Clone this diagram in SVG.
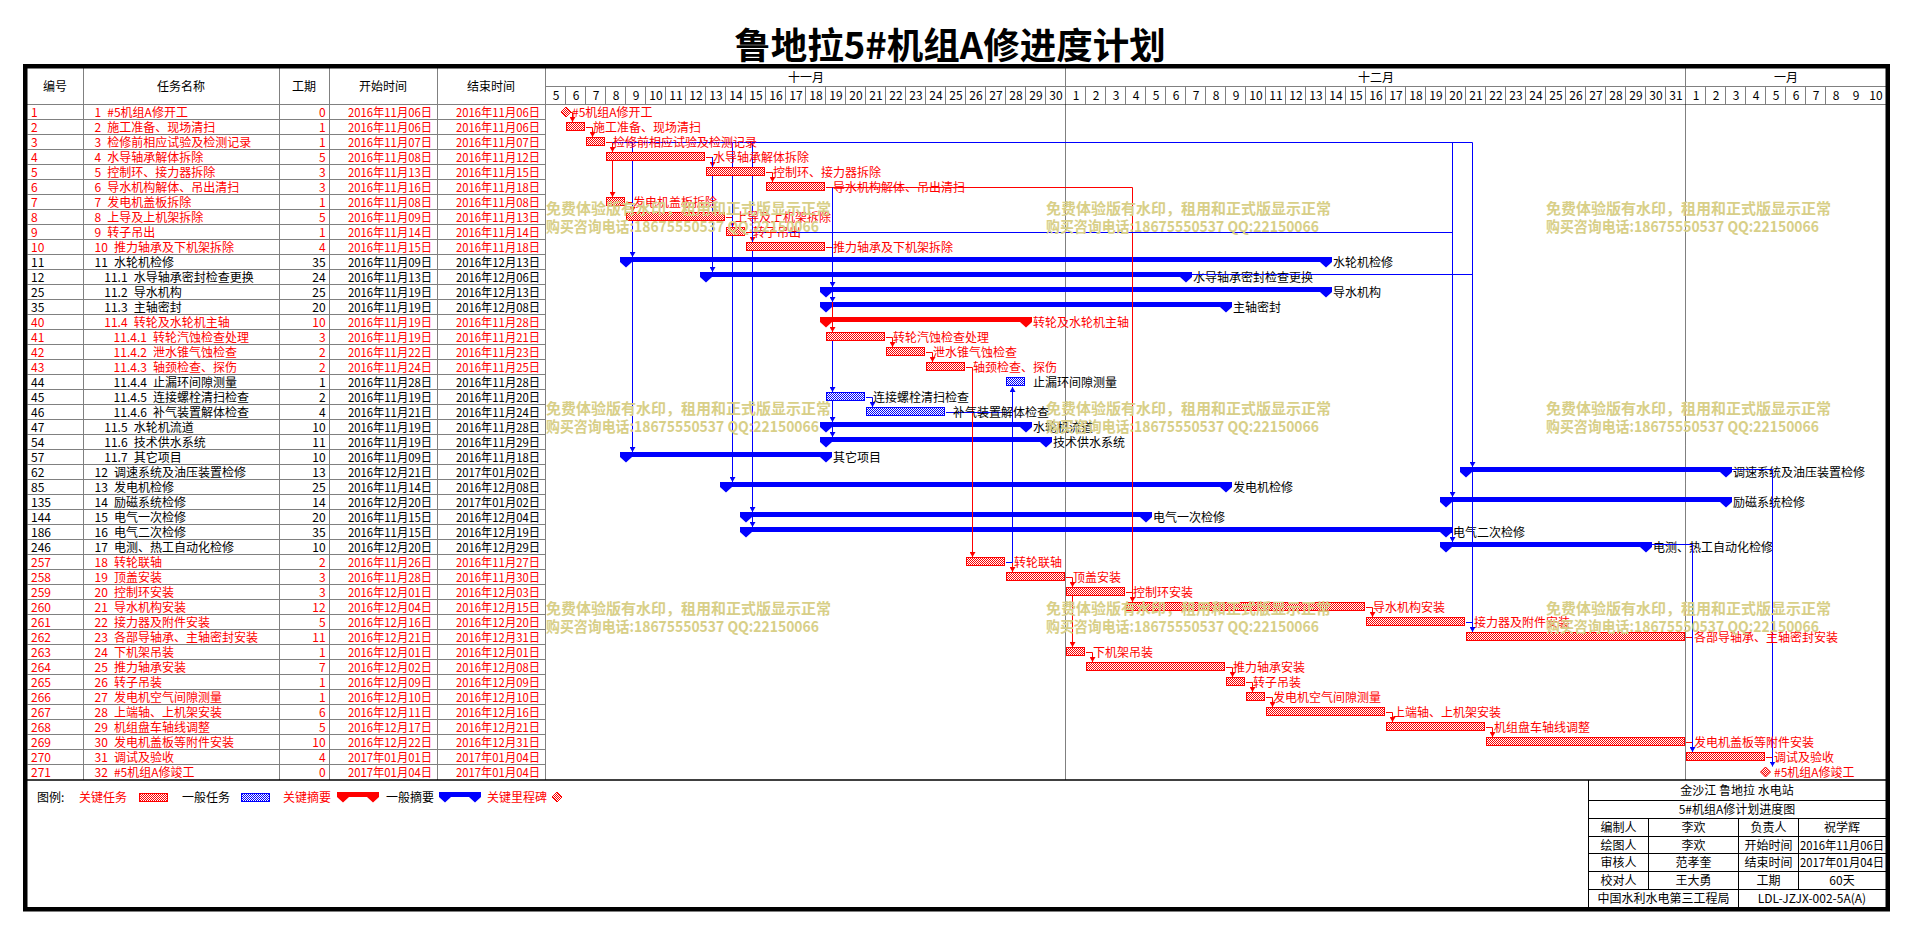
<svg xmlns="http://www.w3.org/2000/svg" width="1912" height="934" viewBox="0 0 1912 934">
<style>
text{font-family:"Noto Sans CJK SC","Liberation Sans",sans-serif;font-size:12px}
.R{fill:#f00}.K{fill:#000}
.e{text-anchor:end}.m{text-anchor:middle}
.br{fill:url(#pr);stroke:#f00;stroke-width:1}
.bb{fill:url(#pb);stroke:#00f;stroke-width:1}
.sr{fill:#f00}.sb{fill:#00f}
.g{fill:none;stroke:#808080;stroke-width:1}
.k1{fill:none;stroke:#000;stroke-width:1}
.lr{fill:none;stroke:#f00;stroke-width:1;marker-end:url(#ar)}
.lb{fill:none;stroke:#00f;stroke-width:1;marker-end:url(#ab)}
.nr{fill:none;stroke:#f00;stroke-width:1}
.nb{fill:none;stroke:#00f;stroke-width:1}
.wm{fill:#d8cf88;font-size:15px;font-weight:bold}
</style>
<defs>
<pattern id="pr" width="2" height="2" patternUnits="userSpaceOnUse"><rect width="2" height="2" fill="#fff"/><rect width="1" height="1" fill="#f00"/><rect x="1" y="1" width="1" height="1" fill="#f00"/></pattern>
<pattern id="pb" width="2" height="2" patternUnits="userSpaceOnUse"><rect width="2" height="2" fill="#fff"/><rect width="1" height="1" fill="#00f"/><rect x="1" y="1" width="1" height="1" fill="#00f"/></pattern>
<marker id="ar" viewBox="0 0 5 6" refX="5" refY="3" markerWidth="5" markerHeight="6" markerUnits="userSpaceOnUse" orient="auto"><path d="M0,0L5,3L0,6Z" fill="#f00"/></marker>
<marker id="ab" viewBox="0 0 5 6" refX="5" refY="3" markerWidth="5" markerHeight="6" markerUnits="userSpaceOnUse" orient="auto"><path d="M0,0L5,3L0,6Z" fill="#00f"/></marker>
<g id="wmk"><text class="wm" x="0" y="0">免费体验版有水印，租用和正式版显示正常</text><text class="wm" x="0" y="17.5" textLength="273" lengthAdjust="spacingAndGlyphs">购买咨询电话:18675550537 QQ:22150066</text></g>
</defs>
<rect width="1912" height="934" fill="#fff"/>
<text id="title" class="m" x="950" y="59" style="font-size:36.5px;font-weight:bold">鲁地拉5#机组A修进度计划</text>

<g id="grid">
<path class="g" d="M27.5,119.5h518m-518,15h518m-518,15h518m-518,15h518m-518,15h518m-518,15h518m-518,15h518m-518,15h518m-518,15h518m-518,15h518m-518,15h518m-518,15h518m-518,15h518m-518,15h518m-518,15h518m-518,15h518m-518,15h518m-518,15h518m-518,15h518m-518,15h518m-518,15h518m-518,15h518m-518,15h518m-518,15h518m-518,15h518m-518,15h518m-518,15h518m-518,15h518m-518,15h518m-518,15h518m-518,15h518m-518,15h518m-518,15h518m-518,15h518m-518,15h518m-518,15h518m-518,15h518m-518,15h518m-518,15h518m-518,15h518m-518,15h518m-518,15h518m-518,15h518m-518,15h518"/>
<path class="g" d="M83.5,68V780M279.5,68V780M329.5,68V780M437.5,68V780M545.5,68V780M27,104.5H1886M545.5,86.5H1886M1065.5,68V86M1685.5,68V86"/>
<path class="g" d="M565.5,86v18m20-18v18m20-18v18m20-18v18m20-18v18m20-18v18m20-18v18m20-18v18m20-18v18m20-18v18m20-18v18m20-18v18m20-18v18m20-18v18m20-18v18m20-18v18m20-18v18m20-18v18m20-18v18m20-18v18m20-18v18m20-18v18m20-18v18m20-18v18m20-18v18m20-18v18m20-18v18m20-18v18m20-18v18m20-18v18m20-18v18m20-18v18m20-18v18m20-18v18m20-18v18m20-18v18m20-18v18m20-18v18m20-18v18m20-18v18m20-18v18m20-18v18m20-18v18m20-18v18m20-18v18m20-18v18m20-18v18m20-18v18m20-18v18m20-18v18m20-18v18m20-18v18m20-18v18m20-18v18m20-18v18m20-18v18m20-18v18m20-18v18m20-18v18m20-18v18m20-18v18m20-18v18m20-18v18m20-18v18"/>
<path d="M1065.5,104.5V780M1685.5,104.5V780" fill="none" stroke="#000" stroke-width="1" stroke-dasharray="1 1"/>
<path d="M27,780H1886" fill="none" stroke="#000" stroke-width="1.5"/>
</g>

<g id="header" class="K">
<text class="m" x="55" y="90.5">编号</text>
<text class="m" x="181" y="90.5">任务名称</text>
<text class="m" x="304" y="90.5">工期</text>
<text class="m" x="383" y="90.5">开始时间</text>
<text class="m" x="491" y="90.5">结束时间</text>
<text class="m" x="806" y="81.5">十一月</text>
<text class="m" x="1376" y="81.5">十二月</text>
<text class="m" x="1786" y="81.5">一月</text>
<g class="m">
<text class="m" x="556" y="99.5">5</text><text class="m" x="576" y="99.5">6</text><text class="m" x="596" y="99.5">7</text><text class="m" x="616" y="99.5">8</text><text class="m" x="636" y="99.5">9</text><text class="m" x="656" y="99.5">10</text><text class="m" x="676" y="99.5">11</text><text class="m" x="696" y="99.5">12</text><text class="m" x="716" y="99.5">13</text><text class="m" x="736" y="99.5">14</text><text class="m" x="756" y="99.5">15</text><text class="m" x="776" y="99.5">16</text><text class="m" x="796" y="99.5">17</text><text class="m" x="816" y="99.5">18</text><text class="m" x="836" y="99.5">19</text><text class="m" x="856" y="99.5">20</text><text class="m" x="876" y="99.5">21</text><text class="m" x="896" y="99.5">22</text><text class="m" x="916" y="99.5">23</text><text class="m" x="936" y="99.5">24</text><text class="m" x="956" y="99.5">25</text><text class="m" x="976" y="99.5">26</text><text class="m" x="996" y="99.5">27</text><text class="m" x="1016" y="99.5">28</text><text class="m" x="1036" y="99.5">29</text><text class="m" x="1056" y="99.5">30</text>
<text class="m" x="1076" y="99.5">1</text><text class="m" x="1096" y="99.5">2</text><text class="m" x="1116" y="99.5">3</text><text class="m" x="1136" y="99.5">4</text><text class="m" x="1156" y="99.5">5</text><text class="m" x="1176" y="99.5">6</text><text class="m" x="1196" y="99.5">7</text><text class="m" x="1216" y="99.5">8</text><text class="m" x="1236" y="99.5">9</text><text class="m" x="1256" y="99.5">10</text><text class="m" x="1276" y="99.5">11</text><text class="m" x="1296" y="99.5">12</text><text class="m" x="1316" y="99.5">13</text><text class="m" x="1336" y="99.5">14</text><text class="m" x="1356" y="99.5">15</text><text class="m" x="1376" y="99.5">16</text><text class="m" x="1396" y="99.5">17</text><text class="m" x="1416" y="99.5">18</text><text class="m" x="1436" y="99.5">19</text><text class="m" x="1456" y="99.5">20</text><text class="m" x="1476" y="99.5">21</text><text class="m" x="1496" y="99.5">22</text><text class="m" x="1516" y="99.5">23</text><text class="m" x="1536" y="99.5">24</text><text class="m" x="1556" y="99.5">25</text><text class="m" x="1576" y="99.5">26</text><text class="m" x="1596" y="99.5">27</text><text class="m" x="1616" y="99.5">28</text><text class="m" x="1636" y="99.5">29</text><text class="m" x="1656" y="99.5">30</text><text class="m" x="1676" y="99.5">31</text>
<text class="m" x="1696" y="99.5">1</text><text class="m" x="1716" y="99.5">2</text><text class="m" x="1736" y="99.5">3</text><text class="m" x="1756" y="99.5">4</text><text class="m" x="1776" y="99.5">5</text><text class="m" x="1796" y="99.5">6</text><text class="m" x="1816" y="99.5">7</text><text class="m" x="1836" y="99.5">8</text><text class="m" x="1856" y="99.5">9</text><text class="m" x="1876" y="99.5">10</text>
</g>
</g>

<!-- summary tasks -->
<g id="task-11" class="K"><text x="31" y="266.5">11</text><text x="94.6" y="266.5">11<tspan dx="6">水轮机检修</tspan></text><text class="e" x="325.6" y="266.5">35</text><text class="e" x="432" y="266.5" textLength="84" lengthAdjust="spacingAndGlyphs">2016年11月09日</text><text class="e" x="540" y="266.5" textLength="84" lengthAdjust="spacingAndGlyphs">2016年12月13日</text><polygon class="sb" points="620,257 1332,257 1332,262 1326,267.5 1320,262 632,262 626,267.5 620,262"/><text x="1333" y="266.5">水轮机检修</text></g>
<g id="task-12" class="K"><text x="31" y="281.5">12</text><text x="104.3" y="281.5">11.1<tspan dx="6">水导轴承密封检查更换</tspan></text><text class="e" x="325.6" y="281.5">24</text><text class="e" x="432" y="281.5" textLength="84" lengthAdjust="spacingAndGlyphs">2016年11月13日</text><text class="e" x="540" y="281.5" textLength="84" lengthAdjust="spacingAndGlyphs">2016年12月06日</text><polygon class="sb" points="700,272 1192,272 1192,277 1186,282.5 1180,277 712,277 706,282.5 700,277"/><text x="1193" y="281.5">水导轴承密封检查更换</text></g>
<g id="task-25" class="K"><text x="31" y="296.5">25</text><text x="104.3" y="296.5">11.2<tspan dx="6">导水机构</tspan></text><text class="e" x="325.6" y="296.5">25</text><text class="e" x="432" y="296.5" textLength="84" lengthAdjust="spacingAndGlyphs">2016年11月19日</text><text class="e" x="540" y="296.5" textLength="84" lengthAdjust="spacingAndGlyphs">2016年12月13日</text><polygon class="sb" points="820,287 1332,287 1332,292 1326,297.5 1320,292 832,292 826,297.5 820,292"/><text x="1333" y="296.5">导水机构</text></g>
<g id="task-35" class="K"><text x="31" y="311.5">35</text><text x="104.3" y="311.5">11.3<tspan dx="6">主轴密封</tspan></text><text class="e" x="325.6" y="311.5">20</text><text class="e" x="432" y="311.5" textLength="84" lengthAdjust="spacingAndGlyphs">2016年11月19日</text><text class="e" x="540" y="311.5" textLength="84" lengthAdjust="spacingAndGlyphs">2016年12月08日</text><polygon class="sb" points="820,302 1232,302 1232,307 1226,312.5 1220,307 832,307 826,312.5 820,307"/><text x="1233" y="311.5">主轴密封</text></g>
<g id="task-40" class="R"><text x="31" y="326.5">40</text><text x="104.3" y="326.5">11.4<tspan dx="6">转轮及水轮机主轴</tspan></text><text class="e" x="325.6" y="326.5">10</text><text class="e" x="432" y="326.5" textLength="84" lengthAdjust="spacingAndGlyphs">2016年11月19日</text><text class="e" x="540" y="326.5" textLength="84" lengthAdjust="spacingAndGlyphs">2016年11月28日</text><polygon class="sr" points="820,317 1032,317 1032,322 1026,327.5 1020,322 832,322 826,327.5 820,322"/><text x="1033" y="326.5">转轮及水轮机主轴</text></g>
<g id="task-47" class="K"><text x="31" y="431.5">47</text><text x="104.3" y="431.5">11.5<tspan dx="6">水轮机流道</tspan></text><text class="e" x="325.6" y="431.5">10</text><text class="e" x="432" y="431.5" textLength="84" lengthAdjust="spacingAndGlyphs">2016年11月19日</text><text class="e" x="540" y="431.5" textLength="84" lengthAdjust="spacingAndGlyphs">2016年11月28日</text><polygon class="sb" points="820,422 1032,422 1032,427 1026,432.5 1020,427 832,427 826,432.5 820,427"/><text x="1033" y="431.5">水轮机流道</text></g>
<g id="task-54" class="K"><text x="31" y="446.5">54</text><text x="104.3" y="446.5">11.6<tspan dx="6">技术供水系统</tspan></text><text class="e" x="325.6" y="446.5">11</text><text class="e" x="432" y="446.5" textLength="84" lengthAdjust="spacingAndGlyphs">2016年11月19日</text><text class="e" x="540" y="446.5" textLength="84" lengthAdjust="spacingAndGlyphs">2016年11月29日</text><polygon class="sb" points="820,437 1052,437 1052,442 1046,447.5 1040,442 832,442 826,447.5 820,442"/><text x="1053" y="446.5">技术供水系统</text></g>
<g id="task-57" class="K"><text x="31" y="461.5">57</text><text x="104.3" y="461.5">11.7<tspan dx="6">其它项目</tspan></text><text class="e" x="325.6" y="461.5">10</text><text class="e" x="432" y="461.5" textLength="84" lengthAdjust="spacingAndGlyphs">2016年11月09日</text><text class="e" x="540" y="461.5" textLength="84" lengthAdjust="spacingAndGlyphs">2016年11月18日</text><polygon class="sb" points="620,452 832,452 832,457 826,462.5 820,457 632,457 626,462.5 620,457"/><text x="833" y="461.5">其它项目</text></g>
<g id="task-62" class="K"><text x="31" y="476.5">62</text><text x="94.6" y="476.5">12<tspan dx="6">调速系统及油压装置检修</tspan></text><text class="e" x="325.6" y="476.5">13</text><text class="e" x="432" y="476.5" textLength="84" lengthAdjust="spacingAndGlyphs">2016年12月21日</text><text class="e" x="540" y="476.5" textLength="84" lengthAdjust="spacingAndGlyphs">2017年01月02日</text><polygon class="sb" points="1460,467 1732,467 1732,472 1726,477.5 1720,472 1472,472 1466,477.5 1460,472"/><text x="1733" y="476.5">调速系统及油压装置检修</text></g>
<g id="task-85" class="K"><text x="31" y="491.5">85</text><text x="94.6" y="491.5">13<tspan dx="6">发电机检修</tspan></text><text class="e" x="325.6" y="491.5">25</text><text class="e" x="432" y="491.5" textLength="84" lengthAdjust="spacingAndGlyphs">2016年11月14日</text><text class="e" x="540" y="491.5" textLength="84" lengthAdjust="spacingAndGlyphs">2016年12月08日</text><polygon class="sb" points="720,482 1232,482 1232,487 1226,492.5 1220,487 732,487 726,492.5 720,487"/><text x="1233" y="491.5">发电机检修</text></g>
<g id="task-135" class="K"><text x="31" y="506.5">135</text><text x="94.6" y="506.5">14<tspan dx="6">励磁系统检修</tspan></text><text class="e" x="325.6" y="506.5">14</text><text class="e" x="432" y="506.5" textLength="84" lengthAdjust="spacingAndGlyphs">2016年12月20日</text><text class="e" x="540" y="506.5" textLength="84" lengthAdjust="spacingAndGlyphs">2017年01月02日</text><polygon class="sb" points="1440,497 1732,497 1732,502 1726,507.5 1720,502 1452,502 1446,507.5 1440,502"/><text x="1733" y="506.5">励磁系统检修</text></g>
<g id="task-144" class="K"><text x="31" y="521.5">144</text><text x="94.6" y="521.5">15<tspan dx="6">电气一次检修</tspan></text><text class="e" x="325.6" y="521.5">20</text><text class="e" x="432" y="521.5" textLength="84" lengthAdjust="spacingAndGlyphs">2016年11月15日</text><text class="e" x="540" y="521.5" textLength="84" lengthAdjust="spacingAndGlyphs">2016年12月04日</text><polygon class="sb" points="740,512 1152,512 1152,517 1146,522.5 1140,517 752,517 746,522.5 740,517"/><text x="1153" y="521.5">电气一次检修</text></g>
<g id="task-186" class="K"><text x="31" y="536.5">186</text><text x="94.6" y="536.5">16<tspan dx="6">电气二次检修</tspan></text><text class="e" x="325.6" y="536.5">35</text><text class="e" x="432" y="536.5" textLength="84" lengthAdjust="spacingAndGlyphs">2016年11月15日</text><text class="e" x="540" y="536.5" textLength="84" lengthAdjust="spacingAndGlyphs">2016年12月19日</text><polygon class="sb" points="740,527 1452,527 1452,532 1446,537.5 1440,532 752,532 746,537.5 740,532"/><text x="1453" y="536.5">电气二次检修</text></g>
<g id="task-246" class="K"><text x="31" y="551.5">246</text><text x="94.6" y="551.5">17<tspan dx="6">电测、热工自动化检修</tspan></text><text class="e" x="325.6" y="551.5">10</text><text class="e" x="432" y="551.5" textLength="84" lengthAdjust="spacingAndGlyphs">2016年12月20日</text><text class="e" x="540" y="551.5" textLength="84" lengthAdjust="spacingAndGlyphs">2016年12月29日</text><polygon class="sb" points="1440,542 1652,542 1652,547 1646,552.5 1640,547 1452,547 1446,552.5 1440,547"/><text x="1653" y="551.5">电测、热工自动化检修</text></g>

<g id="connectors">
<path class="lr" d="M571,112.5H572.5V122"/>
<path class="lr" d="M586,127.5H592.5V137"/>
<path class="lr" d="M606,142.5H612.5V152"/>
<path class="lr" d="M612.5,152V197"/>
<path class="lr" d="M706,157.5H712.5V167"/>
<path class="lr" d="M766,172.5H772.5V182"/>
<path class="lr" d="M826,187.5H1132.5V602"/>
<path class="lr" d="M626,202.5H632.5V212"/>
<path class="lr" d="M726,217.5H732.5V227"/>
<path class="lr" d="M746,232.5H752.5V242"/>
<path class="nr" d="M826,247.5H832.5"/>
<path class="lr" d="M832.5,302V332"/>
<path class="lr" d="M886,337.5H892.5V347"/>
<path class="lr" d="M926,352.5H932.5V362"/>
<path class="lr" d="M966,367.5H972.5V557"/>
<path class="lr" d="M1006,562.5H1012.5V572"/>
<path class="lr" d="M1066,577.5H1072.5V587"/>
<path class="lr" d="M1072.5,587V647"/>
<path class="nr" d="M1126,592.5H1132.5"/>
<path class="lr" d="M1366,607.5H1372.5V617"/>
<path class="lr" d="M1086,652.5H1092.5V662"/>
<path class="lr" d="M1226,667.5H1232.5V677"/>
<path class="lr" d="M1246,682.5H1252.5V692"/>
<path class="lr" d="M1266,697.5H1272.5V707"/>
<path class="lr" d="M1386,712.5H1392.5V722"/>
<path class="lr" d="M1486,727.5H1492.5V737"/>
<path class="nr" d="M1686,637.5H1692.5"/>
<path class="nr" d="M1686,742.5H1692.5"/>
<path class="nr" d="M1766,757.5H1772.5"/>
<path class="nb" d="M612.5,142.5H1472.5"/>
<path class="nb" d="M752.5,232.5H1452.5"/>
<path class="nb" d="M1186,274.5H1472.5"/>
<path class="nb" d="M946,412.5H1012.5"/>
<path class="nb" d="M1466,622.5H1472.5"/>
<path class="nb" d="M1446,532.5H1452.5"/>
<path class="lb" d="M1472.5,142.5V632"/>
<path class="lb" d="M1472.5,460V467"/>
<path class="lb" d="M1452.5,142.5V542"/>
<path class="lb" d="M1452.5,490V497"/>
<path class="lb" d="M632.5,142.5V452"/>
<path class="lb" d="M632.5,250V257"/>
<path class="lb" d="M712.5,157V272"/>
<path class="lb" d="M732.5,142.5V482"/>
<path class="lb" d="M752.5,142.5V527"/>
<path class="lb" d="M752.5,505V512"/>
<path class="lb" d="M832.5,187.5V302"/>
<path class="lb" d="M832.5,280V287"/>
<path class="lb" d="M832.5,332V437"/>
<path class="lb" d="M832.5,385V392"/>
<path class="lb" d="M832.5,415V422"/>
<path class="lb" d="M866,397.5H872.5V407"/>
<path class="lb" d="M1006,562.5H1012.5V387"/>
<path class="lb" d="M1646,544.5H1692.5V752"/>
<path class="lb" d="M1726,469.5H1772.5V766.5"/>
</g>

<!-- tasks and milestones -->
<g id="task-1" class="R"><text x="31" y="116.5">1</text><text x="94.6" y="116.5">1<tspan dx="6">#5机组A修开工</tspan></text><text class="e" x="325.6" y="116.5">0</text><text class="e" x="432" y="116.5" textLength="84" lengthAdjust="spacingAndGlyphs">2016年11月06日</text><text class="e" x="540" y="116.5" textLength="84" lengthAdjust="spacingAndGlyphs">2016年11月06日</text><polygon class="br" points="561,112 566,107 571,112 566,117"/><text x="572" y="116.5">#5机组A修开工</text></g>
<g id="task-2" class="R"><text x="31" y="131.5">2</text><text x="94.6" y="131.5">2<tspan dx="6">施工准备、现场清扫</tspan></text><text class="e" x="325.6" y="131.5">1</text><text class="e" x="432" y="131.5" textLength="84" lengthAdjust="spacingAndGlyphs">2016年11月06日</text><text class="e" x="540" y="131.5" textLength="84" lengthAdjust="spacingAndGlyphs">2016年11月06日</text><rect class="br" x="566.5" y="122.5" width="18" height="8"/><text x="593" y="131.5">施工准备、现场清扫</text></g>
<g id="task-3" class="R"><text x="31" y="146.5">3</text><text x="94.6" y="146.5">3<tspan dx="6">检修前相应试验及检测记录</tspan></text><text class="e" x="325.6" y="146.5">1</text><text class="e" x="432" y="146.5" textLength="84" lengthAdjust="spacingAndGlyphs">2016年11月07日</text><text class="e" x="540" y="146.5" textLength="84" lengthAdjust="spacingAndGlyphs">2016年11月07日</text><rect class="br" x="586.5" y="137.5" width="18" height="8"/><text x="613" y="146.5">检修前相应试验及检测记录</text></g>
<g id="task-4" class="R"><text x="31" y="161.5">4</text><text x="94.6" y="161.5">4<tspan dx="6">水导轴承解体拆除</tspan></text><text class="e" x="325.6" y="161.5">5</text><text class="e" x="432" y="161.5" textLength="84" lengthAdjust="spacingAndGlyphs">2016年11月08日</text><text class="e" x="540" y="161.5" textLength="84" lengthAdjust="spacingAndGlyphs">2016年11月12日</text><rect class="br" x="606.5" y="152.5" width="98" height="8"/><text x="713" y="161.5">水导轴承解体拆除</text></g>
<g id="task-5" class="R"><text x="31" y="176.5">5</text><text x="94.6" y="176.5">5<tspan dx="6">控制环、接力器拆除</tspan></text><text class="e" x="325.6" y="176.5">3</text><text class="e" x="432" y="176.5" textLength="84" lengthAdjust="spacingAndGlyphs">2016年11月13日</text><text class="e" x="540" y="176.5" textLength="84" lengthAdjust="spacingAndGlyphs">2016年11月15日</text><rect class="br" x="706.5" y="167.5" width="58" height="8"/><text x="773" y="176.5">控制环、接力器拆除</text></g>
<g id="task-6" class="R"><text x="31" y="191.5">6</text><text x="94.6" y="191.5">6<tspan dx="6">导水机构解体、吊出清扫</tspan></text><text class="e" x="325.6" y="191.5">3</text><text class="e" x="432" y="191.5" textLength="84" lengthAdjust="spacingAndGlyphs">2016年11月16日</text><text class="e" x="540" y="191.5" textLength="84" lengthAdjust="spacingAndGlyphs">2016年11月18日</text><rect class="br" x="766.5" y="182.5" width="58" height="8"/><text x="833" y="191.5">导水机构解体、吊出清扫</text></g>
<g id="task-7" class="R"><text x="31" y="206.5">7</text><text x="94.6" y="206.5">7<tspan dx="6">发电机盖板拆除</tspan></text><text class="e" x="325.6" y="206.5">1</text><text class="e" x="432" y="206.5" textLength="84" lengthAdjust="spacingAndGlyphs">2016年11月08日</text><text class="e" x="540" y="206.5" textLength="84" lengthAdjust="spacingAndGlyphs">2016年11月08日</text><rect class="br" x="606.5" y="197.5" width="18" height="8"/><text x="633" y="206.5">发电机盖板拆除</text></g>
<g id="task-8" class="R"><text x="31" y="221.5">8</text><text x="94.6" y="221.5">8<tspan dx="6">上导及上机架拆除</tspan></text><text class="e" x="325.6" y="221.5">5</text><text class="e" x="432" y="221.5" textLength="84" lengthAdjust="spacingAndGlyphs">2016年11月09日</text><text class="e" x="540" y="221.5" textLength="84" lengthAdjust="spacingAndGlyphs">2016年11月13日</text><rect class="br" x="626.5" y="212.5" width="98" height="8"/><text x="735" y="221.5">上导及上机架拆除</text></g>
<g id="task-9" class="R"><text x="31" y="236.5">9</text><text x="94.6" y="236.5">9<tspan dx="6">转子吊出</tspan></text><text class="e" x="325.6" y="236.5">1</text><text class="e" x="432" y="236.5" textLength="84" lengthAdjust="spacingAndGlyphs">2016年11月14日</text><text class="e" x="540" y="236.5" textLength="84" lengthAdjust="spacingAndGlyphs">2016年11月14日</text><rect class="br" x="726.5" y="227.5" width="18" height="8"/><text x="753" y="236.5">转子吊出</text></g>
<g id="task-10" class="R"><text x="31" y="251.5">10</text><text x="94.6" y="251.5">10<tspan dx="6">推力轴承及下机架拆除</tspan></text><text class="e" x="325.6" y="251.5">4</text><text class="e" x="432" y="251.5" textLength="84" lengthAdjust="spacingAndGlyphs">2016年11月15日</text><text class="e" x="540" y="251.5" textLength="84" lengthAdjust="spacingAndGlyphs">2016年11月18日</text><rect class="br" x="746.5" y="242.5" width="78" height="8"/><text x="833" y="251.5">推力轴承及下机架拆除</text></g>
<g id="task-41" class="R"><text x="31" y="341.5">41</text><text x="113.6" y="341.5">11.4.1<tspan dx="6">转轮汽蚀检查处理</tspan></text><text class="e" x="325.6" y="341.5">3</text><text class="e" x="432" y="341.5" textLength="84" lengthAdjust="spacingAndGlyphs">2016年11月19日</text><text class="e" x="540" y="341.5" textLength="84" lengthAdjust="spacingAndGlyphs">2016年11月21日</text><rect class="br" x="826.5" y="332.5" width="58" height="8"/><text x="893" y="341.5">转轮汽蚀检查处理</text></g>
<g id="task-42" class="R"><text x="31" y="356.5">42</text><text x="113.6" y="356.5">11.4.2<tspan dx="6">泄水锥气蚀检查</tspan></text><text class="e" x="325.6" y="356.5">2</text><text class="e" x="432" y="356.5" textLength="84" lengthAdjust="spacingAndGlyphs">2016年11月22日</text><text class="e" x="540" y="356.5" textLength="84" lengthAdjust="spacingAndGlyphs">2016年11月23日</text><rect class="br" x="886.5" y="347.5" width="38" height="8"/><text x="933" y="356.5">泄水锥气蚀检查</text></g>
<g id="task-43" class="R"><text x="31" y="371.5">43</text><text x="113.6" y="371.5">11.4.3<tspan dx="6">轴颈检查、探伤</tspan></text><text class="e" x="325.6" y="371.5">2</text><text class="e" x="432" y="371.5" textLength="84" lengthAdjust="spacingAndGlyphs">2016年11月24日</text><text class="e" x="540" y="371.5" textLength="84" lengthAdjust="spacingAndGlyphs">2016年11月25日</text><rect class="br" x="926.5" y="362.5" width="38" height="8"/><text x="973" y="371.5">轴颈检查、探伤</text></g>
<g id="task-44" class="K"><text x="31" y="386.5">44</text><text x="113.6" y="386.5">11.4.4<tspan dx="6">止漏环间隙测量</tspan></text><text class="e" x="325.6" y="386.5">1</text><text class="e" x="432" y="386.5" textLength="84" lengthAdjust="spacingAndGlyphs">2016年11月28日</text><text class="e" x="540" y="386.5" textLength="84" lengthAdjust="spacingAndGlyphs">2016年11月28日</text><rect class="bb" x="1006.5" y="377.5" width="18" height="8"/><text x="1033" y="386.5">止漏环间隙测量</text></g>
<g id="task-45" class="K"><text x="31" y="401.5">45</text><text x="113.6" y="401.5">11.4.5<tspan dx="6">连接螺栓清扫检查</tspan></text><text class="e" x="325.6" y="401.5">2</text><text class="e" x="432" y="401.5" textLength="84" lengthAdjust="spacingAndGlyphs">2016年11月19日</text><text class="e" x="540" y="401.5" textLength="84" lengthAdjust="spacingAndGlyphs">2016年11月20日</text><rect class="bb" x="826.5" y="392.5" width="38" height="8"/><text x="873" y="401.5">连接螺栓清扫检查</text></g>
<g id="task-46" class="K"><text x="31" y="416.5">46</text><text x="113.6" y="416.5">11.4.6<tspan dx="6">补气装置解体检查</tspan></text><text class="e" x="325.6" y="416.5">4</text><text class="e" x="432" y="416.5" textLength="84" lengthAdjust="spacingAndGlyphs">2016年11月21日</text><text class="e" x="540" y="416.5" textLength="84" lengthAdjust="spacingAndGlyphs">2016年11月24日</text><rect class="bb" x="866.5" y="407.5" width="78" height="8"/><text x="953" y="416.5">补气装置解体检查</text></g>
<g id="task-257" class="R"><text x="31" y="566.5">257</text><text x="94.6" y="566.5">18<tspan dx="6">转轮联轴</tspan></text><text class="e" x="325.6" y="566.5">2</text><text class="e" x="432" y="566.5" textLength="84" lengthAdjust="spacingAndGlyphs">2016年11月26日</text><text class="e" x="540" y="566.5" textLength="84" lengthAdjust="spacingAndGlyphs">2016年11月27日</text><rect class="br" x="966.5" y="557.5" width="38" height="8"/><text x="1014" y="566.5">转轮联轴</text></g>
<g id="task-258" class="R"><text x="31" y="581.5">258</text><text x="94.6" y="581.5">19<tspan dx="6">顶盖安装</tspan></text><text class="e" x="325.6" y="581.5">3</text><text class="e" x="432" y="581.5" textLength="84" lengthAdjust="spacingAndGlyphs">2016年11月28日</text><text class="e" x="540" y="581.5" textLength="84" lengthAdjust="spacingAndGlyphs">2016年11月30日</text><rect class="br" x="1006.5" y="572.5" width="58" height="8"/><text x="1073" y="581.5">顶盖安装</text></g>
<g id="task-259" class="R"><text x="31" y="596.5">259</text><text x="94.6" y="596.5">20<tspan dx="6">控制环安装</tspan></text><text class="e" x="325.6" y="596.5">3</text><text class="e" x="432" y="596.5" textLength="84" lengthAdjust="spacingAndGlyphs">2016年12月01日</text><text class="e" x="540" y="596.5" textLength="84" lengthAdjust="spacingAndGlyphs">2016年12月03日</text><rect class="br" x="1066.5" y="587.5" width="58" height="8"/><text x="1133" y="596.5">控制环安装</text></g>
<g id="task-260" class="R"><text x="31" y="611.5">260</text><text x="94.6" y="611.5">21<tspan dx="6">导水机构安装</tspan></text><text class="e" x="325.6" y="611.5">12</text><text class="e" x="432" y="611.5" textLength="84" lengthAdjust="spacingAndGlyphs">2016年12月04日</text><text class="e" x="540" y="611.5" textLength="84" lengthAdjust="spacingAndGlyphs">2016年12月15日</text><rect class="br" x="1126.5" y="602.5" width="238" height="8"/><text x="1373" y="611.5">导水机构安装</text></g>
<g id="task-261" class="R"><text x="31" y="626.5">261</text><text x="94.6" y="626.5">22<tspan dx="6">接力器及附件安装</tspan></text><text class="e" x="325.6" y="626.5">5</text><text class="e" x="432" y="626.5" textLength="84" lengthAdjust="spacingAndGlyphs">2016年12月16日</text><text class="e" x="540" y="626.5" textLength="84" lengthAdjust="spacingAndGlyphs">2016年12月20日</text><rect class="br" x="1366.5" y="617.5" width="98" height="8"/><text x="1474" y="626.5">接力器及附件安装</text></g>
<g id="task-262" class="R"><text x="31" y="641.5">262</text><text x="94.6" y="641.5">23<tspan dx="6">各部导轴承、主轴密封安装</tspan></text><text class="e" x="325.6" y="641.5">11</text><text class="e" x="432" y="641.5" textLength="84" lengthAdjust="spacingAndGlyphs">2016年12月21日</text><text class="e" x="540" y="641.5" textLength="84" lengthAdjust="spacingAndGlyphs">2016年12月31日</text><rect class="br" x="1466.5" y="632.5" width="218" height="8"/><text x="1694" y="641.5">各部导轴承、主轴密封安装</text></g>
<g id="task-263" class="R"><text x="31" y="656.5">263</text><text x="94.6" y="656.5">24<tspan dx="6">下机架吊装</tspan></text><text class="e" x="325.6" y="656.5">1</text><text class="e" x="432" y="656.5" textLength="84" lengthAdjust="spacingAndGlyphs">2016年12月01日</text><text class="e" x="540" y="656.5" textLength="84" lengthAdjust="spacingAndGlyphs">2016年12月01日</text><rect class="br" x="1066.5" y="647.5" width="18" height="8"/><text x="1093" y="656.5">下机架吊装</text></g>
<g id="task-264" class="R"><text x="31" y="671.5">264</text><text x="94.6" y="671.5">25<tspan dx="6">推力轴承安装</tspan></text><text class="e" x="325.6" y="671.5">7</text><text class="e" x="432" y="671.5" textLength="84" lengthAdjust="spacingAndGlyphs">2016年12月02日</text><text class="e" x="540" y="671.5" textLength="84" lengthAdjust="spacingAndGlyphs">2016年12月08日</text><rect class="br" x="1086.5" y="662.5" width="138" height="8"/><text x="1233" y="671.5">推力轴承安装</text></g>
<g id="task-265" class="R"><text x="31" y="686.5">265</text><text x="94.6" y="686.5">26<tspan dx="6">转子吊装</tspan></text><text class="e" x="325.6" y="686.5">1</text><text class="e" x="432" y="686.5" textLength="84" lengthAdjust="spacingAndGlyphs">2016年12月09日</text><text class="e" x="540" y="686.5" textLength="84" lengthAdjust="spacingAndGlyphs">2016年12月09日</text><rect class="br" x="1226.5" y="677.5" width="18" height="8"/><text x="1253" y="686.5">转子吊装</text></g>
<g id="task-266" class="R"><text x="31" y="701.5">266</text><text x="94.6" y="701.5">27<tspan dx="6">发电机空气间隙测量</tspan></text><text class="e" x="325.6" y="701.5">1</text><text class="e" x="432" y="701.5" textLength="84" lengthAdjust="spacingAndGlyphs">2016年12月10日</text><text class="e" x="540" y="701.5" textLength="84" lengthAdjust="spacingAndGlyphs">2016年12月10日</text><rect class="br" x="1246.5" y="692.5" width="18" height="8"/><text x="1273" y="701.5">发电机空气间隙测量</text></g>
<g id="task-267" class="R"><text x="31" y="716.5">267</text><text x="94.6" y="716.5">28<tspan dx="6">上端轴、上机架安装</tspan></text><text class="e" x="325.6" y="716.5">6</text><text class="e" x="432" y="716.5" textLength="84" lengthAdjust="spacingAndGlyphs">2016年12月11日</text><text class="e" x="540" y="716.5" textLength="84" lengthAdjust="spacingAndGlyphs">2016年12月16日</text><rect class="br" x="1266.5" y="707.5" width="118" height="8"/><text x="1393" y="716.5">上端轴、上机架安装</text></g>
<g id="task-268" class="R"><text x="31" y="731.5">268</text><text x="94.6" y="731.5">29<tspan dx="6">机组盘车轴线调整</tspan></text><text class="e" x="325.6" y="731.5">5</text><text class="e" x="432" y="731.5" textLength="84" lengthAdjust="spacingAndGlyphs">2016年12月17日</text><text class="e" x="540" y="731.5" textLength="84" lengthAdjust="spacingAndGlyphs">2016年12月21日</text><rect class="br" x="1386.5" y="722.5" width="98" height="8"/><text x="1494" y="731.5">机组盘车轴线调整</text></g>
<g id="task-269" class="R"><text x="31" y="746.5">269</text><text x="94.6" y="746.5">30<tspan dx="6">发电机盖板等附件安装</tspan></text><text class="e" x="325.6" y="746.5">10</text><text class="e" x="432" y="746.5" textLength="84" lengthAdjust="spacingAndGlyphs">2016年12月22日</text><text class="e" x="540" y="746.5" textLength="84" lengthAdjust="spacingAndGlyphs">2016年12月31日</text><rect class="br" x="1486.5" y="737.5" width="198" height="8"/><text x="1694" y="746.5">发电机盖板等附件安装</text></g>
<g id="task-270" class="R"><text x="31" y="761.5">270</text><text x="94.6" y="761.5">31<tspan dx="6">调试及验收</tspan></text><text class="e" x="325.6" y="761.5">4</text><text class="e" x="432" y="761.5" textLength="84" lengthAdjust="spacingAndGlyphs">2017年01月01日</text><text class="e" x="540" y="761.5" textLength="84" lengthAdjust="spacingAndGlyphs">2017年01月04日</text><rect class="br" x="1686.5" y="752.5" width="78" height="8"/><text x="1774" y="761.5">调试及验收</text></g>
<g id="task-271" class="R"><text x="31" y="776.5">271</text><text x="94.6" y="776.5">32<tspan dx="6">#5机组A修竣工</tspan></text><text class="e" x="325.6" y="776.5">0</text><text class="e" x="432" y="776.5" textLength="84" lengthAdjust="spacingAndGlyphs">2017年01月04日</text><text class="e" x="540" y="776.5" textLength="84" lengthAdjust="spacingAndGlyphs">2017年01月04日</text><polygon class="br" points="1760.5,772 1765.5,767 1770.5,772 1765.5,777"/><text x="1774" y="776.5">#5机组A修竣工</text></g>

<g id="legend">
<text class="K" x="37" y="801.5">图例:</text>
<text class="R" x="79" y="801.5">关键任务</text>
<rect class="br" x="139.5" y="793.5" width="28" height="8"/>
<text class="K" x="182" y="801.5">一般任务</text>
<rect class="bb" x="241.5" y="793.5" width="28" height="8"/>
<text class="R" x="283" y="801.5">关键摘要</text>
<polygon class="sr" points="337,792 379,792 379,797 373,802.5 367,797 349,797 343,802.5 337,797"/>
<text class="K" x="386" y="801.5">一般摘要</text>
<polygon class="sb" points="439,792 481,792 481,797 475,802.5 469,797 451,797 445,802.5 439,797"/>
<text class="R" x="487" y="801.5">关键里程碑</text>
<polygon class="br" points="552,797 557,792 562,797 557,802"/>
</g>

<g id="titleblock" class="K">
<path class="k1" d="M1588.5,780V907M1588.5,800.5H1886M1588.5,818.5H1886M1588.5,836.5H1886M1588.5,853.5H1886M1588.5,871.5H1886M1588.5,889.5H1886M1648.5,818.5V889.5M1738.5,818.5V907M1798.5,818.5V889.5"/>
<text class="m" x="1737" y="794.5">金沙江 鲁地拉 水电站</text>
<text class="m" x="1737" y="813.5">5#机组A修计划进度图</text>
<text class="m" x="1618.5" y="832">编制人</text><text class="m" x="1693.5" y="832">李欢</text><text class="m" x="1768.5" y="832">负责人</text><text class="m" x="1842" y="832">祝学辉</text>
<text class="m" x="1618.5" y="849.5">绘图人</text><text class="m" x="1693.5" y="849.5">李欢</text><text class="m" x="1768.5" y="849.5">开始时间</text><text class="m" x="1842" y="849.5" textLength="84" lengthAdjust="spacingAndGlyphs">2016年11月06日</text>
<text class="m" x="1618.5" y="867">审核人</text><text class="m" x="1693.5" y="867">范孝奎</text><text class="m" x="1768.5" y="867">结束时间</text><text class="m" x="1842" y="867" textLength="84" lengthAdjust="spacingAndGlyphs">2017年01月04日</text>
<text class="m" x="1618.5" y="885">校对人</text><text class="m" x="1693.5" y="885">王大勇</text><text class="m" x="1768.5" y="885">工期</text><text class="m" x="1842" y="885">60天</text>
<text class="m" x="1663.5" y="902.5">中国水利水电第三工程局</text><text class="m" x="1812" y="902.5">LDL-JZJX-002-5A(A)</text>
</g>

<rect id="frame" x="25.25" y="66.25" width="1862.5" height="843" fill="none" stroke="#000" stroke-width="4.5"/>

<g id="watermark">
<use href="#wmk" x="546" y="214"/><use href="#wmk" x="1046" y="214"/><use href="#wmk" x="1546" y="214"/>
<use href="#wmk" x="546" y="414"/><use href="#wmk" x="1046" y="414"/><use href="#wmk" x="1546" y="414"/>
<use href="#wmk" x="546" y="614"/><use href="#wmk" x="1046" y="614"/><use href="#wmk" x="1546" y="614"/>
</g>
</svg>
